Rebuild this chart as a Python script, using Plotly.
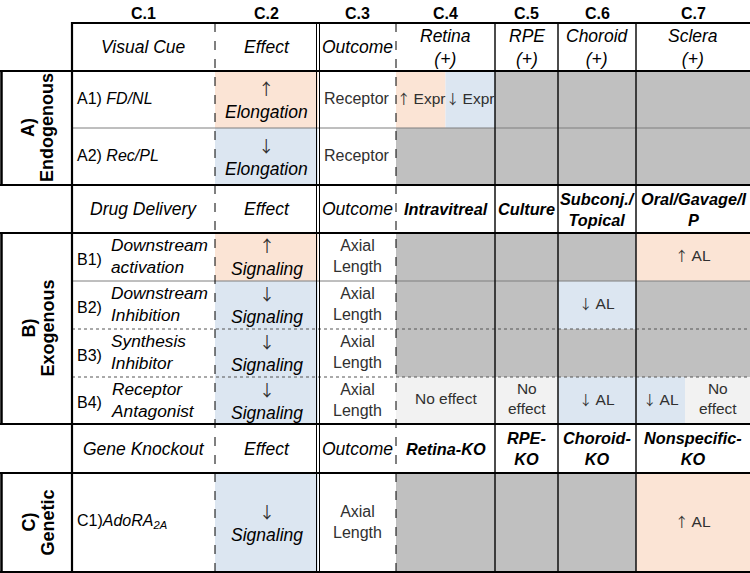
import plotly.graph_objects as go

# ---------------- data ----------------
column_labels = ["C.1", "C.2", "C.3", "C.4", "C.5", "C.6", "C.7"]
group_letters = ["A)", "B)", "C)"]
group_names = ["Endogenous", "Exogenous", "Genetic"]
section_headers = [
    ["Visual Cue", "Effect", "Outcome", "Retina<br>(+)", "RPE<br>(+)", "Choroid<br>(+)", "Sclera<br>(+)"],
    ["Drug Delivery", "Effect", "Outcome", "Intravitreal", "Culture", "Subconj./<br>Topical", "Oral/Gavage/I<br>P"],
    ["Gene Knockout", "Effect", "Outcome", "Retina-KO", "RPE-<br>KO", "Choroid-<br>KO", "Nonspecific-<br>KO"],
]
header_bold_from = [99, 3, 3]   # first column index whose header is bold, per section
row_ids = ["A1)", "A2)", "B1)", "B2)", "B3)", "B4)", "C1)"]
row_section = [0, 0, 1, 1, 1, 1, 2]
row_names = ["FD/NL", "Rec/PL", "Downstream<br>activation", "Downstream<br>Inhibition",
             "Synthesis<br>Inhibitor", "Receptor<br>Antagonist", "AdoRA<sub>2A</sub>"]
effect_direction = ["up", "down", "up", "down", "down", "down", "down"]
effect_target = ["Elongation", "Elongation", "Signaling", "Signaling", "Signaling", "Signaling", "Signaling"]
outcomes = ["Receptor", "Receptor", "Axial<br>Length", "Axial<br>Length", "Axial<br>Length",
            "Axial<br>Length", "Axial<br>Length"]
# tissue columns C.4 .. C.7 : each cell = list of (result, text) parts
NA = [("na", "")]
tissue_results = [
    [[("up", "↑ Expr"), ("down", "↓ Expr")], NA, NA, NA],
    [NA, NA, NA, NA],
    [NA, NA, NA, [("up", "↑ AL")]],
    [NA, NA, [("down", "↓ AL")], NA],
    [NA, NA, NA, NA],
    [[("none", "No effect")], [("none", "No<br>effect")], [("down", "↓ AL")],
     [("down", "↓ AL"), ("none", "No<br>effect")]],
    [NA, NA, NA, [("up", "↑ AL")]],
]

# ---------------- layout / style ----------------
W, H = 750, 573
col_edges = [1.5, 72, 215, 318, 396, 495, 558, 636, 750]
table_top = 23
table_bottom = 572
section_header_edges = [(23, 71), (185, 233), (424, 473)]
row_edges = [(71, 128), (128, 185), (233, 281), (281, 329), (329, 377), (377, 424), (473, 572)]
group_spans = [(71, 185), (233, 424), (473, 572)]
split_fraction = {3: 0.5, 6: 0.43}
row_sep_style = {1: "solid", 3: "solid", 4: "dot", 5: "dot"}  # line above row index

fill = {"up": "#FBE4D5", "down": "#DCE6F1", "na": "#C0C0C0", "none": "#F2F2F2", "white": "#FFFFFF"}
FONT = "Liberation Sans, Arial, sans-serif"
ARROW_FONT = "Noto Sans CJK JP"
TXT = "#000000"
BODY = "#303030"

fig = go.Figure()
shapes = []
ann = []


def arrows(s, size=13.5):
    for a in ("↑", "↓"):
        s = s.replace(a + " ", a + "\u2009").replace(
            a, "<span style='font-family:%s;font-size:%spx'>%s</span>" % (ARROW_FONT, size, a))
    return s


def rect(x0, x1, y0, y1, color):
    shapes.append(dict(type="rect", xref="x", yref="y", x0=x0, x1=x1, y0=y0, y1=y1,
                       fillcolor=color, line=dict(width=0), layer="below"))


def hline(y, x0, x1, width=1, color="#000", dash="solid"):
    shapes.append(dict(type="line", xref="x", yref="y", x0=x0, x1=x1, y0=y, y1=y,
                       line=dict(color=color, width=width, dash=dash)))


def vline(x, y0, y1, width=1, color="#000", dash="solid"):
    shapes.append(dict(type="line", xref="x", yref="y", x0=x, x1=x, y0=y0, y1=y1,
                       line=dict(color=color, width=width, dash=dash)))


def text(x, y, s, size=16, color=TXT, xanchor="center", align="center", angle=0):
    ann.append(dict(x=x, y=y, xref="x", yref="y", text=s, showarrow=False,
                    xanchor=xanchor, yanchor="middle", align=align, textangle=angle,
                    font=dict(family=FONT, size=size, color=color)))


def cx(c):
    return (col_edges[c + 1] + col_edges[c + 2]) / 2


# column labels
for c, lab in enumerate(column_labels):
    text(cx(c), 13, "<b>%s</b>" % lab, size=16)

# section headers
for s, (y0, y1) in enumerate(section_header_edges):
    for c, lab in enumerate(section_headers[s]):
        if c >= header_bold_from[s]:
            t = "<b><i>%s</i></b>" % lab
            sz = 16.3
        else:
            t = "<i>%s</i>" % lab
            sz = 17.5
        text(cx(c), (y0 + y1) / 2, t, size=sz)

# group labels (rotated)
for g, (y0, y1) in enumerate(group_spans):
    ym = (y0 + y1) / 2
    text(28, ym, "<b>%s</b>" % group_letters[g], size=18, angle=-90)
    text(47, ym, "<b>%s</b>" % group_names[g], size=18, angle=-90)

# body rows
for r in range(len(row_ids)):
    y0, y1 = row_edges[r]
    ym = (y0 + y1) / 2
    # C.1
    if "<br>" in row_names[r]:
        text(col_edges[1] + 3, ym + 2, row_ids[r], size=16, color=TXT, xanchor="left")
        text(col_edges[1] + 37, ym - 1, "<i>%s</i>" % row_names[r], size=17.3,
             xanchor="left", align="left")
    else:
        sep = " " if row_section[r] == 0 else ""
        text(col_edges[1] + 3, ym - 1, "%s%s<i>%s</i>" % (row_ids[r], sep, row_names[r]),
             size=16, xanchor="left", align="left")
    # C.2
    rect(col_edges[2], col_edges[3], y0, y1, fill[effect_direction[r]])
    arrow = "↑" if effect_direction[r] == "up" else "↓"
    text(cx(1), ym - 1,
         "<span style='font-family:%s;font-size:16px;color:%s'>%s</span><br><i>%s</i>"
         % (ARROW_FONT, BODY, arrow, effect_target[r]), size=17.5)
    # C.3
    text(cx(2), ym - 1, outcomes[r], size=16, color=BODY)
    # C.4 - C.7
    for k, parts in enumerate(tissue_results[r]):
        c = 3 + k
        xa, xb = col_edges[c + 1], col_edges[c + 2]
        if len(parts) == 1:
            edges = [xa, xb]
        else:
            xm = xa + (xb - xa) * split_fraction[c]
            edges = [xa, xm, xb]
        for p, (res, lab) in enumerate(parts):
            rect(edges[p], edges[p + 1], y0, y1, fill[res])
            if lab:
                text((edges[p] + edges[p + 1]) / 2, ym - 2, arrows(lab), size=15.5, color=BODY)

# ---- grid lines ----
x_left, x_right = col_edges[0], col_edges[-1]
for r, style in row_sep_style.items():
    y = row_edges[r][0]
    hline(y, col_edges[1], x_right, width=1, color="#7f7f7f" if style == "solid" else "#555555",
          dash=style)
vline(col_edges[2], table_top, table_bottom, width=1, color="#000", dash="dash")
vline(col_edges[3] - 1.5, table_top, table_bottom, width=1, color="#000")
vline(col_edges[3] + 1.5, table_top, table_bottom, width=1, color="#000")
vline(col_edges[4], table_top, table_bottom, width=1, color="#000", dash="dash")
for c in (5, 6, 7):
    vline(col_edges[c], table_top, table_bottom, width=1.5, color="#111")
hline(table_top, col_edges[1], x_right, width=2.2)
for y in (71, 185, 233, 424, 473, table_bottom):
    hline(y, x_left - 1.5, x_right, width=2.2)
vline(col_edges[1], table_top - 1, table_bottom + 1, width=2.2)
for (y0, y1) in group_spans:
    vline(x_left, y0, y1, width=2.5)

fig.update_layout(
    width=W, height=H, autosize=False,
    margin=dict(l=0, r=0, t=0, b=0, pad=0),
    paper_bgcolor="white", plot_bgcolor="white",
    xaxis=dict(range=[0, W], visible=False, fixedrange=True),
    yaxis=dict(range=[H, 0], visible=False, fixedrange=True),
    shapes=shapes, annotations=ann, showlegend=False,
)
fig.write_html("out.html", config={"displayModeBar": False},
               post_script="document.body.style.margin='0';document.body.style.overflow='hidden';")
